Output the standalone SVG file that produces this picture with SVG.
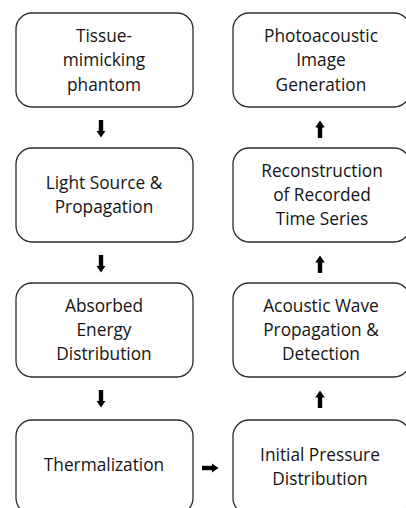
<svg xmlns="http://www.w3.org/2000/svg" width="406" height="508" viewBox="0 0 406 508">
  <style>
    .box { fill: #ffffff; stroke: #2b2b2b; stroke-width: 1.3; }
    .lbl { font-family: "Open Sans", "Liberation Sans", sans-serif; font-size: 17.3px; fill: #141414; text-anchor: middle; }
    .arrow { stroke: #000000; stroke-width: 4.4; fill: none; marker-end: url(#head); }
  </style>
  <defs>
    <marker id="head" markerUnits="userSpaceOnUse" markerWidth="8" markerHeight="10" refX="0.5" refY="4.75" orient="auto">
      <path d="M0,0 L7,4.75 L0,9.5 Z" fill="#000000"/>
    </marker>
  </defs>
  <rect width="406" height="508" fill="#ffffff"/>

  <!-- left column -->
  <g id="tissue-phantom">
    <rect class="box" x="16" y="13" width="177" height="94" rx="16"/>
    <text class="lbl" x="104" y="42">Tissue-</text>
    <text class="lbl" x="104" y="66">mimicking</text>
    <text class="lbl" x="104" y="91">phantom</text>
  </g>
  <g id="light-source">
    <rect class="box" x="16" y="148" width="177" height="94" rx="16"/>
    <text class="lbl" x="104" y="189">Light Source &amp;</text>
    <text class="lbl" x="104" y="213">Propagation</text>
  </g>
  <g id="absorbed-energy">
    <rect class="box" x="16" y="283" width="177" height="94" rx="16"/>
    <text class="lbl" x="104" y="312">Absorbed</text>
    <text class="lbl" x="104" y="336">Energy</text>
    <text class="lbl" x="104" y="360">Distribution</text>
  </g>
  <g id="thermalization">
    <rect class="box" x="16" y="420" width="177" height="94" rx="16"/>
    <text class="lbl" x="104" y="471">Thermalization</text>
  </g>

  <!-- right column -->
  <g id="image-generation">
    <rect class="box" x="233" y="13" width="177" height="94" rx="16"/>
    <text class="lbl" x="321" y="42">Photoacoustic</text>
    <text class="lbl" x="321" y="66">Image</text>
    <text class="lbl" x="321" y="91">Generation</text>
  </g>
  <g id="reconstruction">
    <rect class="box" x="233" y="148" width="177" height="94" rx="16"/>
    <text class="lbl" x="322" y="177">Reconstruction</text>
    <text class="lbl" x="322" y="201">of Recorded</text>
    <text class="lbl" x="322" y="225">Time Series</text>
  </g>
  <g id="acoustic-wave">
    <rect class="box" x="233" y="283" width="177" height="94" rx="16"/>
    <text class="lbl" x="321" y="312">Acoustic Wave</text>
    <text class="lbl" x="321" y="336">Propagation &amp;</text>
    <text class="lbl" x="321" y="360">Detection</text>
  </g>
  <g id="initial-pressure">
    <rect class="box" x="233" y="420" width="177" height="94" rx="16"/>
    <text class="lbl" x="320" y="461">Initial Pressure</text>
    <text class="lbl" x="320" y="485">Distribution</text>
  </g>

  <!-- connectors -->
  <g id="connectors">
    <line class="arrow" x1="101" y1="120" x2="101" y2="131"/>
    <line class="arrow" x1="101" y1="255" x2="101" y2="266"/>
    <line class="arrow" x1="101" y1="390" x2="101" y2="401"/>
    <line class="arrow" x1="202" y1="468" x2="212" y2="468"/>
    <line class="arrow" x1="320" y1="408" x2="320" y2="397"/>
    <line class="arrow" x1="320" y1="273" x2="320" y2="262"/>
    <line class="arrow" x1="320" y1="138" x2="320" y2="127"/>
  </g>
</svg>
